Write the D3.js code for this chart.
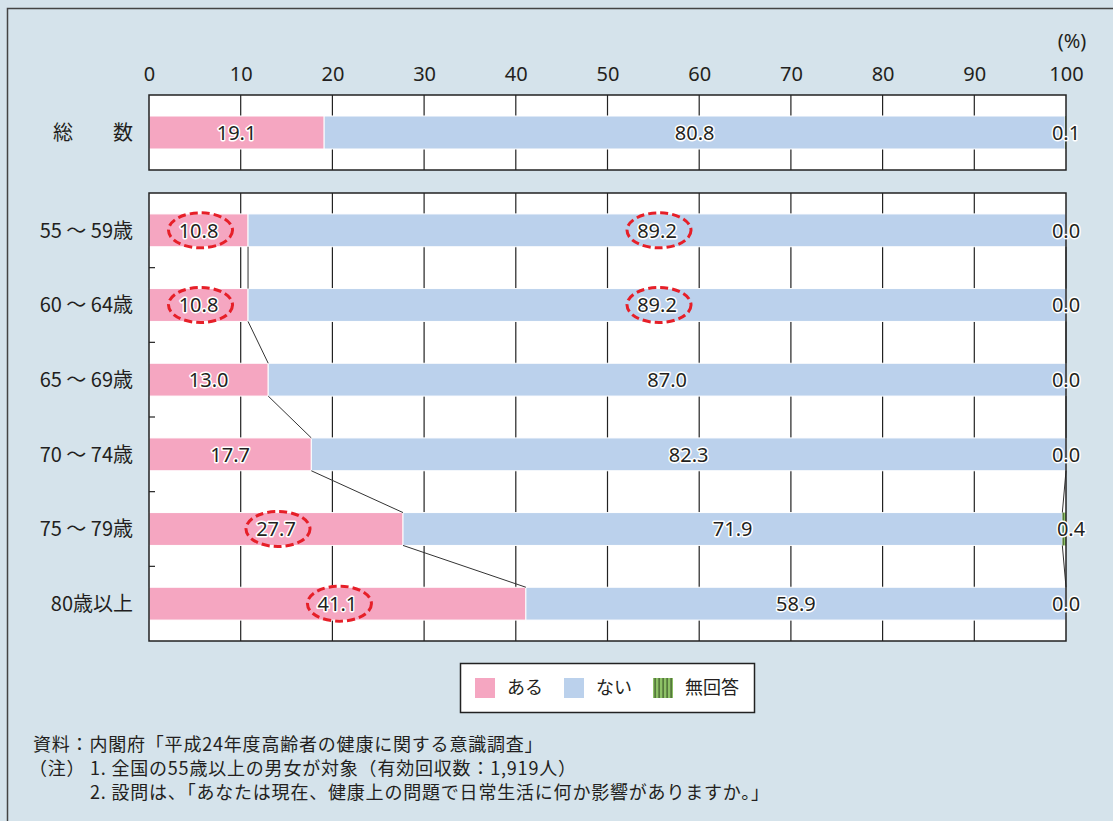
<!DOCTYPE html>
<html>
<head>
    <meta charset="UTF-8">
    <title>健康上の問題で日常生活に影響があるか</title>
    <script src="https://cdn.jsdelivr.net/npm/d3@7"></script>
    <style>
        body { margin: 0; background: #d5e3eb; }
        svg { display: block; }
        .num { font: 20px "Noto Sans", sans-serif; fill: #231f20; }
        .halo { paint-order: stroke; stroke: #fff; stroke-width: 3px; stroke-linejoin: round; }
        .jp { font-family: "Noto Sans CJK JP", sans-serif; fill: #231f20; }
    </style>
</head>
<body>
<script>
    // data
    var totalLabel = ["総　　数"];
    var ageLabels = ["55 ～ 59歳", "60 ～ 64歳", "65 ～ 69歳", "70 ～ 74歳", "75 ～ 79歳", "80歳以上"];
    var totalAru = [19.1], totalNai = [80.8], totalNone = [0.1];
    var aru = [10.8, 10.8, 13.0, 17.7, 27.7, 41.1];
    var nai = [89.2, 89.2, 87.0, 82.3, 71.9, 58.9];
    var noAnswer = [0.0, 0.0, 0.0, 0.0, 0.4, 0.0];
    var xTicks = [0, 10, 20, 30, 40, 50, 60, 70, 80, 90, 100];
    var seriesNames = ["ある", "ない", "無回答"];
    var seriesColors = ["#f5a6c1", "#bbd1ec", "#8dc166"];
    // circled labels: [row index in age panel, series index]
    var circled = [[0, 0], [0, 1], [1, 0], [1, 1], [4, 0], [5, 0]];
    var notes = [
        "資料：内閣府「平成24年度高齢者の健康に関する意識調査」",
        "（注）",
        "1.  全国の55歳以上の男女が対象（有効回収数：1,919人）",
        "2.  設問は、「あなたは現在、健康上の問題で日常生活に何か影響がありますか。」"
    ];

    var W = 1113, H = 821;
    var svg = d3.select("body").append("svg").attr("width", W).attr("height", H);

    // pattern for 無回答
    var pat = svg.append("defs").append("pattern")
        .attr("id", "stripe").attr("patternUnits", "userSpaceOnUse")
        .attr("width", 4).attr("height", 4);
    pat.append("rect").attr("width", 4).attr("height", 4).attr("fill", seriesColors[2]);
    pat.append("rect").attr("x", 2.5).attr("width", 1.2).attr("height", 4).attr("fill", "#3d5a2a");

    // outer frame (only left and top edges visible)
    svg.append("rect").attr("x", 0).attr("y", 0).attr("width", W).attr("height", H).attr("fill", "#d5e3eb");
    svg.append("path").attr("d", "M7.5," + H + "V8.5H" + W)
        .attr("fill", "none").attr("stroke", "#444").attr("stroke-width", 1.5);

    var x = d3.scaleLinear().domain([0, 100]).range([149, 1066]);

    var yTop = d3.scaleBand().domain(totalLabel).range([95, 170])
        .paddingInner(0.56).paddingOuter(0.28);
    var yAge = d3.scaleBand().domain(ageLabels).range([193, 641])
        .paddingInner(0.56).paddingOuter(0.28);

    // axis labels on top
    var axisTop = d3.axisTop(x).tickValues(xTicks).tickSize(0).tickPadding(0);
    var ga = svg.append("g").attr("transform", "translate(0,81)").call(axisTop);
    ga.select(".domain").remove();
    ga.selectAll("text").attr("class", "num").attr("dy", 0).attr("fill", "#231f20");
    svg.append("text").attr("class", "num").attr("x", 1072).attr("y", 48)
        .attr("text-anchor", "middle").text("(%)");

    function panel(y, labels, a, n, z, circ) {
        var r0 = y.range()[0], r1 = y.range()[1];
        var g = svg.append("g");
        g.append("rect").attr("x", x(0)).attr("y", r0)
            .attr("width", x(100) - x(0)).attr("height", r1 - r0).attr("fill", "#fff");

        // grid
        g.selectAll(".grid").data(xTicks.slice(1, -1)).enter().append("line")
            .attr("x1", function (d) { return x(d); }).attr("x2", function (d) { return x(d); })
            .attr("y1", r0).attr("y2", r1)
            .attr("stroke", "#222").attr("stroke-width", 1.2);

        // inner ticks on the left between bands
        var step = y.step();
        var bounds = d3.range(1, labels.length).map(function (i) { return r0 + i * step; });
        g.selectAll(".lt").data(bounds).enter().append("line")
            .attr("x1", x(0)).attr("x2", x(0) + 6)
            .attr("y1", function (d) { return d; }).attr("y2", function (d) { return d; })
            .attr("stroke", "#222").attr("stroke-width", 1.2);

        var rows = labels.map(function (l, i) {
            return { label: l, vals: [a[i], n[i], z[i]] };
        });
        var bh = y.bandwidth();

        rows.forEach(function (row, i) {
            var yy = y(row.label);
            var cum = 0;
            row.vals.forEach(function (v, s) {
                g.append("rect")
                    .attr("x", x(cum)).attr("y", yy)
                    .attr("width", x(cum + v) - x(cum)).attr("height", bh)
                    .attr("fill", s === 2 ? "url(#stripe)" : seriesColors[s])
                    .attr("stroke", s === 2 ? "none" : "#fff").attr("stroke-width", 1);
                cum += v;
            });
        });

        // connector lines between consecutive bars
        for (var i = 0; i < rows.length - 1; i++) {
            var c1 = 0, c2 = 0;
            for (var s = 0; s < 2; s++) {
                c1 += rows[i].vals[s];
                c2 += rows[i + 1].vals[s];
                g.append("line")
                    .attr("x1", x(c1)).attr("y1", y(rows[i].label) + bh)
                    .attr("x2", x(c2)).attr("y2", y(rows[i + 1].label))
                    .attr("stroke", "#333").attr("stroke-width", 1);
            }
        }

        // frame
        g.append("rect").attr("x", x(0)).attr("y", r0)
            .attr("width", x(100) - x(0)).attr("height", r1 - r0)
            .attr("fill", "none").attr("stroke", "#222").attr("stroke-width", 1.5);

        // value labels
        rows.forEach(function (row, i) {
            var cy = y(row.label) + bh / 2;
            var cum = 0;
            row.vals.forEach(function (v, s) {
                var cx = s === 2 ? x(100) + (v > 0.2 ? 5 : 0) : x(cum + v / 2);
                g.append("text").attr("class", "num halo")
                    .attr("x", cx).attr("y", cy).attr("dy", "0.36em")
                    .attr("text-anchor", "middle").text(v.toFixed(1));
                if (circ && circ.some(function (c) { return c[0] === i && c[1] === s; })) {
                    g.append("ellipse").attr("cx", cx + 2).attr("cy", cy)
                        .attr("rx", 32).attr("ry", 17.5)
                        .attr("fill", "none").attr("stroke", "#e61f28")
                        .attr("stroke-width", 3).attr("stroke-dasharray", "8,4");
                }
                cum += v;
            });
            svg.append("text").attr("class", "jp")
                .attr("x", 133).attr("y", cy).attr("dy", "0.36em")
                .attr("text-anchor", "end").style("font-size", "20px")
                .text(row.label);
        });
    }

    panel(yTop, totalLabel, totalAru, totalNai, totalNone, null);
    panel(yAge, ageLabels, aru, nai, noAnswer, circled);

    // legend
    var lg = svg.append("g");
    lg.append("rect").attr("x", 460.5).attr("y", 663.5).attr("width", 294).attr("height", 49)
        .attr("fill", "#fff").attr("stroke", "#222").attr("stroke-width", 1.5);
    var legX = [475, 564, 653];
    seriesNames.forEach(function (name, i) {
        lg.append("rect").attr("x", legX[i]).attr("y", 678).attr("width", 20).attr("height", 20)
            .attr("fill", i === 2 ? "url(#stripe)" : seriesColors[i]);
        lg.append("text").attr("class", "jp").attr("x", legX[i] + 32).attr("y", 688)
            .attr("dy", "0.36em").style("font-size", "18px").text(name);
    });

    // notes
    var nx = [33, 29, 90, 90], ny = [745, 769, 769, 793];
    notes.forEach(function (t, i) {
        svg.append("text").attr("class", "jp").attr("x", nx[i]).attr("y", ny[i])
            .attr("dy", "0.36em").style("font-size", "18px")
            .style("letter-spacing", "0.8px").text(t);
    });
</script>
</body>
</html>
